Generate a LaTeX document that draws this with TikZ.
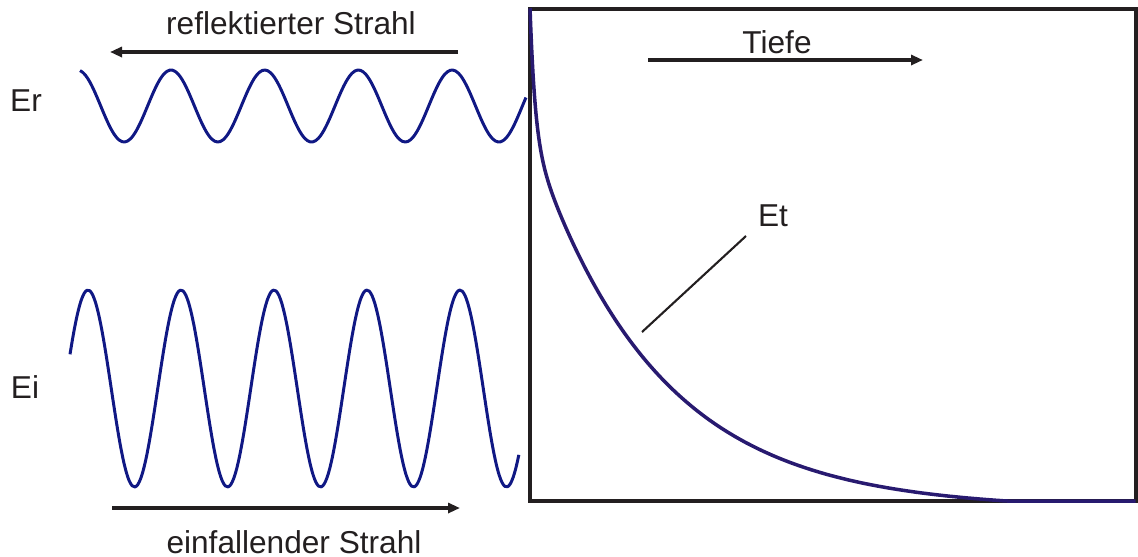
\documentclass[tikz,border=0pt]{standalone}
\usepackage{fontspec}
\setmainfont{Liberation Sans}
\usetikzlibrary{arrows.meta}
\definecolor{wavenavy}{RGB}{16,24,132}
\definecolor{decaynavy}{RGB}{40,26,112}
\definecolor{ink}{RGB}{35,31,32}

\tikzset{
    wave/.style={wavenavy, line width=0.85pt, line join=round},
    beam/.style={ink, line width=0.9pt, -{Triangle[length=1.2mm,width=1mm]}},
    lbl/.style={ink, font=\fontsize{9pt}{11pt}\selectfont, inner sep=0pt}
}

\begin{document}
\begin{tikzpicture}[>=Stealth]
    \useasboundingbox (0,0) rectangle (11.38,5.56);

    % Reflected wave
    \node[lbl] (er) at (0.26,4.55) {Er};
    \draw[wave] plot[domain=0.80:5.26, samples=160, smooth] (\x,{4.50+0.36*cos(360*(\x-1.71)/0.937)});
    \node[lbl] (refl) at (2.91,5.33) {reflektierter Strahl};
    \coordinate (refl-a) at (4.58,5.04);
    \coordinate (refl-b) at (1.10,5.04);
    \draw[beam] (refl-a) -- (refl-b);

    % Incident wave
    \node[lbl] (ei) at (0.25,1.69) {Ei};
    \draw[wave] plot[domain=0.70:5.19, samples=160, smooth] (\x,{1.675+0.985*cos(360*(\x-0.88)/0.93)});
    \node[lbl] (inc) at (2.94,0.14) {einfallender Strahl};
    \coordinate (inc-a) at (1.12,0.48);
    \coordinate (inc-b) at (4.60,0.48);
    \draw[beam] (inc-a) -- (inc-b);

    % Medium
    \draw[ink, line width=0.9pt] (5.30,0.55) rectangle (11.36,5.47);
    \node[lbl] (tiefe) at (7.77,5.14) {Tiefe};
    \coordinate (tiefe-a) at (6.48,4.96);
    \coordinate (tiefe-b) at (9.23,4.96);
    \draw[beam] (tiefe-a) -- (tiefe-b);

    % Transmitted field
    \draw[decaynavy, line width=1pt, line join=round] plot[domain=0:0.4, samples=80]
        (5.30+\x, {0.55+3.75*(exp(-\x/1.25)-0.022)+1.26*exp(max(-\x/0.05,-15))})
        -- plot[domain=0.4:6.06, samples=200]
        (5.30+\x, {0.55+max(0,3.75*(exp(-\x/1.25)-0.022))+1.26*exp(max(-\x/0.05,-15))});
    \node[lbl] (et) at (7.73,3.40) {Et};
    \coordinate (et-a) at (7.46,3.20);
    \coordinate (et-b) at (6.42,2.24);
    \draw[ink, line width=0.6pt] (et-a) -- (et-b);

\end{tikzpicture}
\end{document}
